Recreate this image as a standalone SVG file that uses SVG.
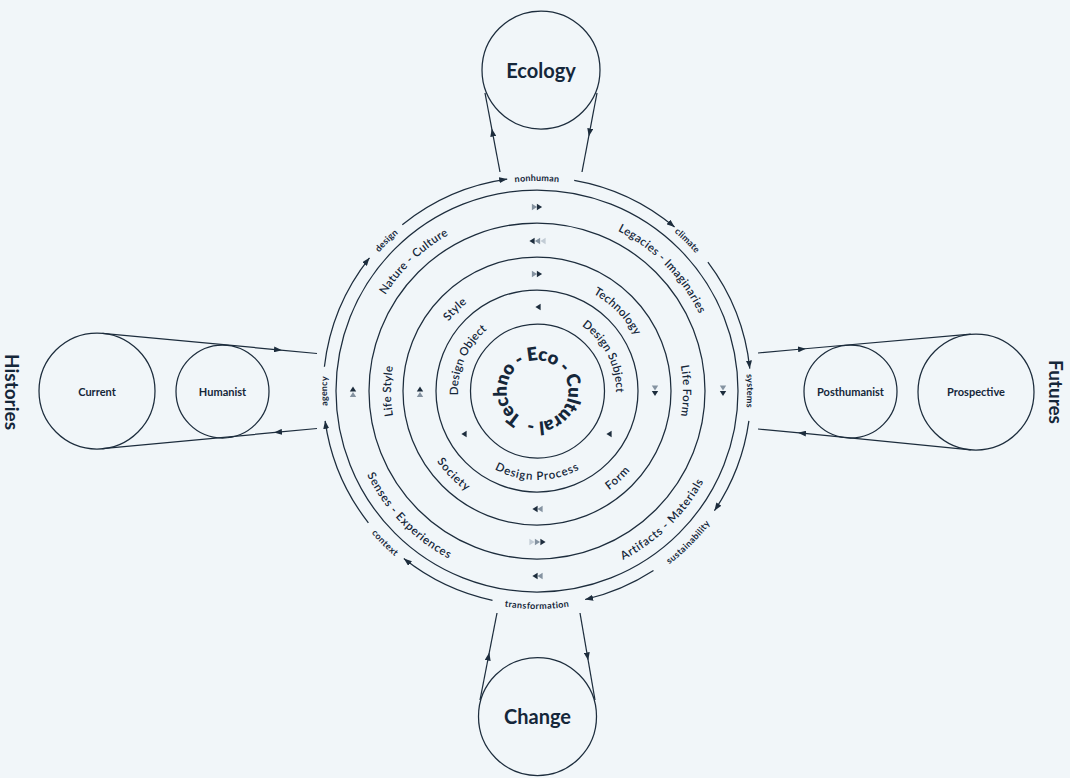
<svg xmlns="http://www.w3.org/2000/svg" xmlns:xlink="http://www.w3.org/1999/xlink" width="1070" height="778" viewBox="0 0 1070 778">
<style>
.ln{fill:none;stroke:#1d2d3d;stroke-width:1.25}
.t{font-family:Lato,"Noto Sans",sans-serif;fill:#15273a}
.big{font-size:20px;font-weight:700}
.lab{font-size:9px;font-weight:700;letter-spacing:0.3px}
.band{font-size:11.5px;font-weight:600;letter-spacing:0.5px}
.node{font-size:11px;font-weight:700}
.dk{fill:#1d2d3d}.gy{fill:#8593a1}.lt{fill:#c2ccd5}
</style>
<defs>
<marker id="ae" viewBox="0 0 8 6" refX="8" refY="3" markerWidth="8" markerHeight="6" orient="auto" markerUnits="userSpaceOnUse"><path d="M0,0 L8,3 L0,6 z" fill="#1d2d3d"/></marker>
<marker id="am" viewBox="0 0 8 6" refX="4" refY="3" markerWidth="8" markerHeight="6" orient="auto" markerUnits="userSpaceOnUse"><path d="M0,0 L8,3 L0,6 z" fill="#1d2d3d"/></marker>
<path id="tri" d="M-2.6,-3.2 L2.6,0 L-2.6,3.2 z"/>
<path id="cw214" d="M537,605 A214,214 0 1,1 537,177 A214,214 0 1,1 537,605"/>
<path id="ccw214" d="M537,177 A214,214 0 1,0 537,605 A214,214 0 1,0 537,177"/>
<path id="cw184" d="M537,575.5 A184.5,184.5 0 1,1 537,206.5 A184.5,184.5 0 1,1 537,575.5"/>
<path id="ccw184" d="M537,206.5 A184.5,184.5 0 1,0 537,575.5 A184.5,184.5 0 1,0 537,206.5"/>
<path id="cw151" d="M537,542 A151,151 0 1,1 537,240 A151,151 0 1,1 537,542"/>
<path id="cw117" d="M537,508.5 A117.5,117.5 0 1,1 537,273.5 A117.5,117.5 0 1,1 537,508.5"/>
<path id="ccw117" d="M537,273.5 A117.5,117.5 0 1,0 537,508.5 A117.5,117.5 0 1,0 537,273.5"/>
<path id="cw84" d="M537,475 A84,84 0 1,1 537,307 A84,84 0 1,1 537,475"/>
<path id="ccw84" d="M537,307 A84,84 0 1,0 537,475 A84,84 0 1,0 537,307"/>
<path id="inner" d="M522.25,417.41 A30.5,30.5 0 1,1 552.75,364.59 A30.5,30.5 0 1,1 522.25,417.41"/>
</defs>
<rect width="1070" height="778" fill="#f1f6f9"/>

<g id="connectors">
<path class="ln" marker-end="url(#ae)" d="M368.4,522.8 A214,214 0 0,1 325.1,420.8"/>
<path class="ln" marker-end="url(#ae)" d="M324.4,366.8 A214,214 0 0,1 369.5,257.8"/>
<path class="ln" marker-end="url(#ae)" d="M402.3,224.7 A214,214 0 0,1 507.2,179.1"/>
<path class="ln" marker-end="url(#ae)" d="M574.2,180.3 A214,214 0 0,1 674.6,227.1"/>
<path class="ln" marker-end="url(#ae)" d="M707.9,262.2 A214,214 0 0,1 749.8,368.6"/>
<path class="ln" marker-end="url(#ae)" d="M748.9,420.8 A214,214 0 0,1 714.4,510.7"/>
<path class="ln" marker-end="url(#ae)" d="M653.5,570.5 A214,214 0 0,1 585.1,599.5"/>
<path class="ln" marker-end="url(#ae)" d="M492.5,600.3 A214,214 0 0,1 403.8,558.5"/>
<path class="ln" marker-mid="url(#am)" d="M500,172 L492.5,132.5 L485,93"/>
<path class="ln" marker-mid="url(#am)" d="M597,93 L589.5,132.5 L582,172"/>
<path class="ln" marker-mid="url(#am)" d="M480,700 L488.5,656.5 L497,613"/>
<path class="ln" marker-mid="url(#am)" d="M580,613 L587.5,656.5 L595,700"/>
<path class="ln" marker-mid="url(#am)" d="M102.5,333.3 L278,349.8 L317,353.5"/>
<path class="ln" marker-mid="url(#am)" d="M317,428.5 L278,432.2 L102.5,448.7"/>
<path class="ln" marker-mid="url(#am)" d="M758,353 L802,349 L970.7,334.2"/>
<path class="ln" marker-mid="url(#am)" d="M970.7,449.8 L802,433.2 L758,429"/>
</g>

<g id="ring">
<circle class="ln" cx="537" cy="391" r="201"/>
<circle class="ln" cx="537" cy="391" r="168"/>
<circle class="ln" cx="537" cy="391" r="134"/>
<circle class="ln" cx="537" cy="391" r="101"/>
<circle class="ln" cx="537.5" cy="391" r="67"/>
</g>

<g id="outer-labels" class="t lab" dominant-baseline="central" text-anchor="middle">
<text><textPath href="#cw214" startOffset="25%">agency</textPath></text>
<text><textPath href="#cw214" startOffset="37.5%">design</textPath></text>
<text><textPath href="#cw214" startOffset="50%">nonhuman</textPath></text>
<text><textPath href="#cw214" startOffset="62.5%">climate</textPath></text>
<text><textPath href="#cw214" startOffset="75%">systems</textPath></text>
<text><textPath href="#ccw214" startOffset="37.5%">context</textPath></text>
<text><textPath href="#ccw214" startOffset="50%">transformation</textPath></text>
<text><textPath href="#ccw214" startOffset="62.5%">sustainability</textPath></text>
</g>

<g id="band-a" class="t band" dominant-baseline="central" text-anchor="middle">
<text><textPath href="#cw184" startOffset="37.9%">Nature - Culture</textPath></text>
<text><textPath href="#cw184" startOffset="62.7%">Legacies - Imaginaries</textPath></text>
<text><textPath href="#ccw184" startOffset="62.3%">Artifacts - Materials</textPath></text>
<text><textPath href="#ccw184" startOffset="37.3%">Senses - Experiences</textPath></text>
</g>
<g id="band-b" class="t band" dominant-baseline="central" text-anchor="middle">
<text><textPath href="#cw151" startOffset="25%">Life Style</textPath></text>
<text><textPath href="#cw151" startOffset="75%">Life Form</textPath></text>
</g>
<g id="band-c" class="t band" dominant-baseline="central" text-anchor="middle">
<text><textPath href="#cw117" startOffset="37.5%">Style</textPath></text>
<text><textPath href="#cw117" startOffset="62.6%">Technology</textPath></text>
<text><textPath href="#ccw117" startOffset="61.9%">Form</textPath></text>
<text><textPath href="#ccw117" startOffset="37.5%">Society</textPath></text>
</g>
<g id="band-d" class="t band" dominant-baseline="central" text-anchor="middle">
<text><textPath href="#cw84" startOffset="31.7%">Design Object</textPath></text>
<text><textPath href="#cw84" startOffset="67.5%">Design Subject</textPath></text>
<text><textPath href="#ccw84" startOffset="50%">Design Process</textPath></text>
</g>

<g id="core">
<text class="t" font-size="18.5" font-weight="800"><textPath href="#inner" textLength="186" lengthAdjust="spacing">Techno - Eco - Cultural -</textPath></text>
</g>

<g id="flow-marks">
<use href="#tri" class="gy" x="534.5" y="207"/><use href="#tri" class="dk" x="539.5" y="207"/>
<use href="#tri" class="dk" transform="translate(532,241) rotate(180)"/><use href="#tri" class="gy" transform="translate(537.5,241) rotate(180)"/><use href="#tri" class="lt" transform="translate(543,241) rotate(180)"/>
<use href="#tri" class="gy" x="534.5" y="274"/><use href="#tri" class="dk" x="539.5" y="274"/>
<use href="#tri" class="dk" transform="translate(538,307) rotate(180)"/>
<use href="#tri" class="dk" transform="translate(535,576) rotate(180)"/><use href="#tri" class="gy" transform="translate(540,576) rotate(180)"/>
<use href="#tri" class="lt" x="532" y="542"/><use href="#tri" class="gy" x="537.5" y="542"/><use href="#tri" class="dk" x="543" y="542"/>
<use href="#tri" class="dk" transform="translate(535,509) rotate(180)"/><use href="#tri" class="gy" transform="translate(540,509) rotate(180)"/>
<use href="#tri" class="dk" transform="translate(353,389) rotate(-90)"/><use href="#tri" class="gy" transform="translate(353,394.5) rotate(-90)"/>
<use href="#tri" class="dk" transform="translate(420,389) rotate(-90)"/><use href="#tri" class="gy" transform="translate(420,394.5) rotate(-90)"/>
<use href="#tri" class="gy" transform="translate(723,388) rotate(90)"/><use href="#tri" class="dk" transform="translate(723,393.5) rotate(90)"/>
<use href="#tri" class="gy" transform="translate(655,388) rotate(90)"/><use href="#tri" class="dk" transform="translate(655,393.5) rotate(90)"/>
<use href="#tri" class="dk" transform="translate(464,434) rotate(180)"/>
<use href="#tri" class="dk" transform="translate(609,434) rotate(180)"/>
</g>

<g id="ecology">
<circle class="ln" cx="541" cy="70" r="59"/>
<text class="t big" x="541" y="70" text-anchor="middle" dominant-baseline="central">Ecology</text>
</g>
<g id="change">
<circle class="ln" cx="537.5" cy="716.5" r="59"/>
<text class="t big" x="537.5" y="716" text-anchor="middle" dominant-baseline="central">Change</text>
</g>
<g id="current">
<circle class="ln" cx="97" cy="391" r="58"/>
<text class="t node" x="97" y="391" text-anchor="middle" dominant-baseline="central">Current</text>
</g>
<g id="humanist">
<circle class="ln" cx="222.5" cy="391.5" r="46.5"/>
<text class="t node" x="222.5" y="391" text-anchor="middle" dominant-baseline="central">Humanist</text>
</g>
<g id="posthumanist">
<circle class="ln" cx="850.5" cy="391.5" r="46.5"/>
<text class="t node" x="850.5" y="391" text-anchor="middle" dominant-baseline="central">Posthumanist</text>
</g>
<g id="prospective">
<circle class="ln" cx="976" cy="392" r="58"/>
<text class="t node" x="976" y="391" text-anchor="middle" dominant-baseline="central">Prospective</text>
</g>
<g id="histories">
<text class="t" font-size="19" font-weight="700" text-anchor="middle" dominant-baseline="central" transform="translate(12,392) rotate(90)">Histories</text>
</g>
<g id="futures">
<text class="t" font-size="19" font-weight="700" text-anchor="middle" dominant-baseline="central" transform="translate(1056,392) rotate(90)">Futures</text>
</g>
</svg>
